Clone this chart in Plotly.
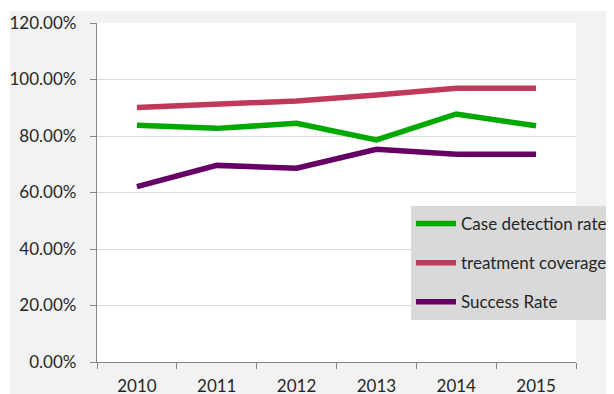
import plotly.graph_objects as go

years = ["2010", "2011", "2012", "2013", "2014", "2015"]
case_detection = [0.838, 0.827, 0.845, 0.786, 0.878, 0.836]
treatment_coverage = [0.901, 0.913, 0.924, 0.945, 0.969, 0.969]
success_rate = [0.621, 0.696, 0.686, 0.753, 0.735, 0.735]

series = [
    ("Case detection rate", case_detection, "#00a800"),
    ("treatment coverage", treatment_coverage, "#c0395a"),
    ("Success Rate", success_rate, "#660066"),
]

# page body has an 8px margin; work in window pixels and convert
OFF = 8
WIN_W, WIN_H = 614, 394
W, H = WIN_W - OFF, WIN_H - OFF
PL, PR, PT, PB = 97, 576, 23, 362          # plot area in window pixels
L, R, T, B = PL - OFF, WIN_W - PR, PT - OFF, WIN_H - PB
pw, ph = W - L - R, H - T - B

fig = go.Figure()
for name, vals, col in series:
    fig.add_trace(go.Scatter(
        x=years, y=vals, name=name, mode="lines", legendgroup=name,
        line=dict(color=col, width=5.5, shape="linear"),
    ))

font = dict(family="Lato, 'Open Sans', sans-serif", size=17, color="#262626")

def px_x(p):
    return (p - PL) / pw

def px_y(p):
    return (PB - p) / ph

fig.update_layout(
    width=W, height=H,
    margin=dict(l=L, r=R, t=T, b=B, pad=0, autoexpand=False),
    paper_bgcolor="#f2f2f2",
    plot_bgcolor="white",
    font=font,
    showlegend=True,
    legend=dict(
        x=px_x(411), y=px_y(206), xanchor="left", yanchor="top",
        bgcolor="#d9d9d9", borderwidth=0, font=font,
        tracegroupgap=14, itemwidth=40,
    ),
    xaxis=dict(
        type="category", range=[-0.5, 5.5], tickson="boundaries",
        showline=True, linecolor="#868686", linewidth=1.3,
        ticks="outside", ticklen=6, tickcolor="#868686", tickwidth=1.3,
        showgrid=False, tickfont=font, ticklabelstandoff=8,
    ),
    yaxis=dict(
        range=[0, 1.2], dtick=0.2, tickformat=".2%",
        showline=True, linecolor="#868686", linewidth=1.3,
        ticks="outside", ticklen=6, tickcolor="#868686", tickwidth=1.3,
        showgrid=True, gridcolor="#d9d9d9", gridwidth=1,
        zeroline=False, tickfont=font, ticklabelstandoff=10,
    ),
    shapes=[
        dict(type="rect", xref="paper", yref="paper",
             x0=px_x(0), x1=px_x(WIN_W), y0=px_y(11), y1=px_y(0),
             fillcolor="white", line=dict(width=0), layer="above"),
        dict(type="rect", xref="paper", yref="paper",
             x0=px_x(0), x1=px_x(10), y0=px_y(WIN_H), y1=px_y(0),
             fillcolor="white", line=dict(width=0), layer="above"),
    ],
)

fig.write_html("out.html")
